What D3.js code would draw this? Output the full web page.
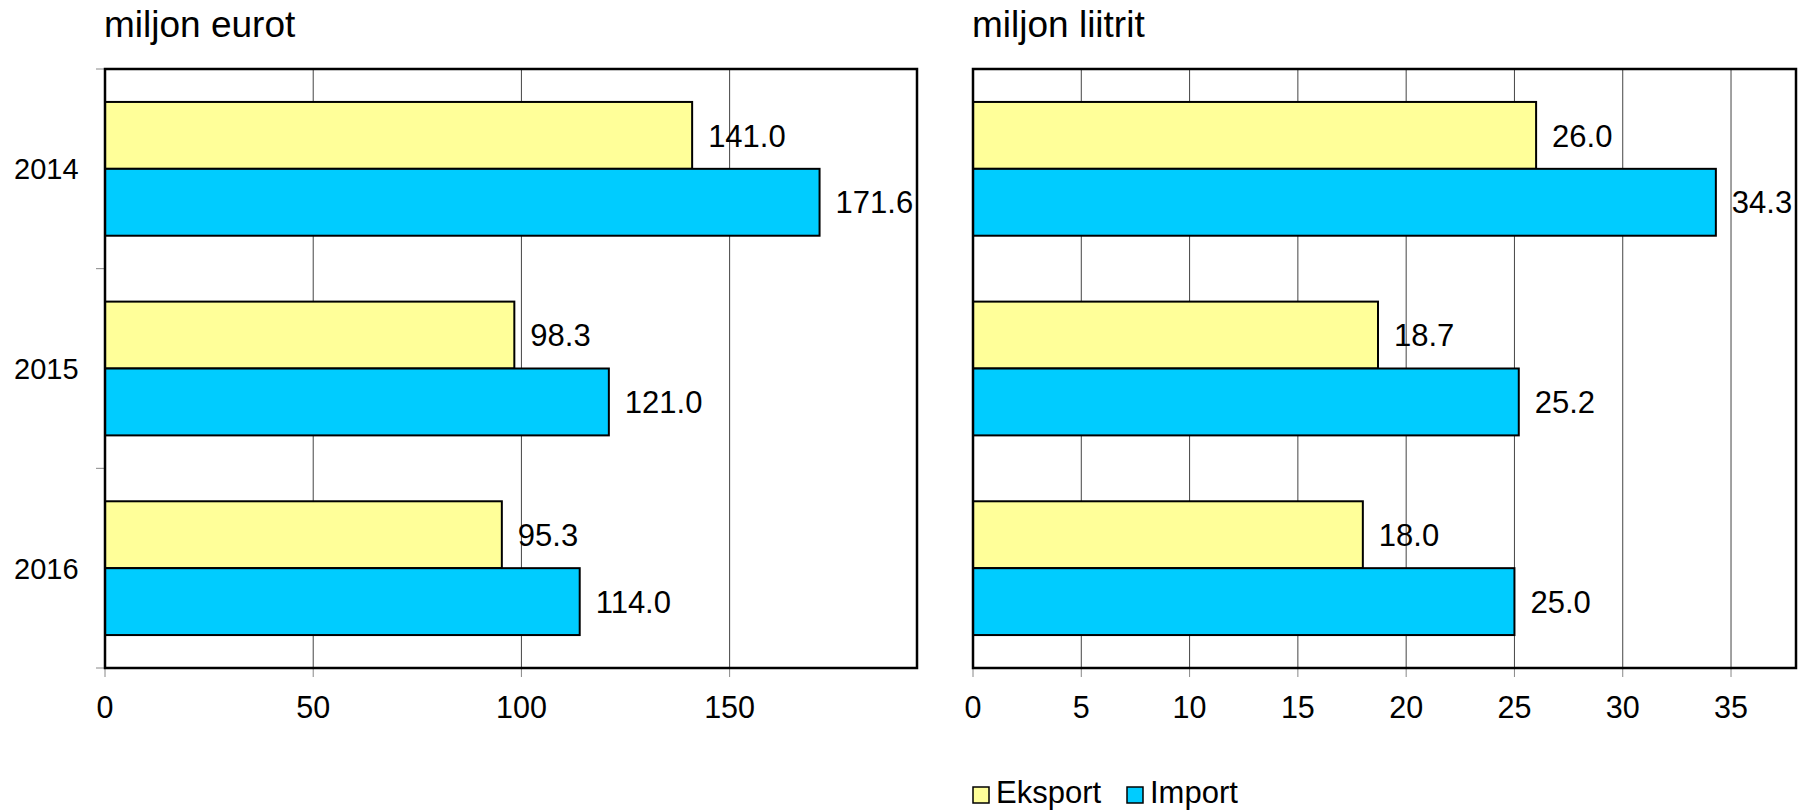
<!DOCTYPE html>
<html>
<head>
<meta charset="utf-8">
<script src="https://cdn.jsdelivr.net/npm/d3@7"></script>
<style>
  body { margin: 0; background: #fff; }
  svg text { font-family: "Liberation Sans", Arial, sans-serif; fill: #000; }
</style>
</head>
<body>
<script>
// data
var years = ['2014', '2015', '2016'];
var seriesNames = ['Eksport', 'Import'];
var seriesColors = ['#FFFF99', '#00CCFF'];

var eurExport = [141.0, 98.3, 95.3];
var eurImport = [171.6, 121.0, 114.0];
var eurTicks = [0, 50, 100, 150];

var litExport = [26.0, 18.7, 18.0];
var litImport = [34.3, 25.2, 25.0];
var litTicks = [0, 5, 10, 15, 20, 25, 30, 35];

var svgWidth = 1808, svgHeight = 810;
var plotTop = 69, plotBottom = 668;

var svg = d3.select('body').append('svg')
  .attr('width', svgWidth)
  .attr('height', svgHeight);

var y = d3.scaleBand()
  .domain(years)
  .range([plotTop, plotBottom])
  .paddingInner(0.33)
  .paddingOuter(0.165);

var ySub = d3.scaleBand()
  .domain(seriesNames)
  .range([0, y.bandwidth()]);

// one panel
function panel(opts) {
  var x = d3.scaleLinear().domain([0, opts.max]).range([opts.left, opts.right]);
  var g = svg.append('g');

  // grid lines
  g.selectAll('line.grid')
    .data(opts.ticks.slice(1))
    .enter().append('line')
    .attr('x1', function(d) { return x(d) })
    .attr('x2', function(d) { return x(d) })
    .attr('y1', plotTop)
    .attr('y2', plotBottom)
    .attr('stroke', '#444')
    .attr('stroke-width', 1);

  // x ticks below the axis
  g.selectAll('line.xtick')
    .data(opts.ticks)
    .enter().append('line')
    .attr('x1', function(d) { return x(d) })
    .attr('x2', function(d) { return x(d) })
    .attr('y1', plotBottom)
    .attr('y2', plotBottom + 9)
    .attr('stroke', '#888')
    .attr('stroke-width', 1);

  g.selectAll('text.xlab')
    .data(opts.ticks)
    .enter().append('text')
    .attr('x', function(d) { return x(d) })
    .attr('y', 718)
    .attr('text-anchor', 'middle')
    .style('font-size', '30.5px')
    .text(function(d) { return d });

  // y ticks (category boundaries), left panel only
  if (opts.yTicks) {
    var bounds = d3.range(years.length + 1).map(function(i) {
      return plotTop + i * y.step();
    });
    g.selectAll('line.ytick')
      .data(bounds)
      .enter().append('line')
      .attr('x1', opts.left - 9)
      .attr('x2', opts.left)
      .attr('y1', function(d) { return d })
      .attr('y2', function(d) { return d })
      .attr('stroke', '#888')
      .attr('stroke-width', 1);

    g.selectAll('text.ylab')
      .data(years)
      .enter().append('text')
      .attr('x', 14)
      .attr('y', function(d) { return y(d) + y.bandwidth() / 2 })
      .attr('dy', '0.36em')
      .style('font-size', '29px')
      .text(function(d) { return d });
  }

  // bars
  var rows = [];
  years.forEach(function(yr, i) {
    rows.push({ year: yr, s: 0, v: opts.exp[i] });
    rows.push({ year: yr, s: 1, v: opts.imp[i] });
  });

  g.selectAll('rect.bar')
    .data(rows)
    .enter().append('rect')
    .attr('x', x(0))
    .attr('y', function(d) { return y(d.year) + ySub(seriesNames[d.s]) })
    .attr('width', function(d) { return x(d.v) - x(0) })
    .attr('height', ySub.bandwidth())
    .attr('fill', function(d) { return seriesColors[d.s] })
    .attr('stroke', '#000')
    .attr('stroke-width', 2);

  g.selectAll('text.val')
    .data(rows)
    .enter().append('text')
    .attr('x', function(d) { return x(d.v) + 16 })
    .attr('y', function(d) { return y(d.year) + ySub(seriesNames[d.s]) + ySub.bandwidth() / 2 })
    .attr('dy', '0.36em')
    .style('font-size', '31px')
    .text(function(d) { return d.v.toFixed(1) });

  // frame
  g.append('rect')
    .attr('x', opts.left)
    .attr('y', plotTop)
    .attr('width', opts.right - opts.left)
    .attr('height', plotBottom - plotTop)
    .attr('fill', 'none')
    .attr('stroke', '#000')
    .attr('stroke-width', 2.5);

  g.append('text')
    .attr('x', opts.left - 1)
    .attr('y', 37)
    .style('font-size', '37px')
    .text(opts.title);
}

panel({ left: 105, right: 917, max: 195, ticks: eurTicks, exp: eurExport, imp: eurImport, title: 'miljon eurot', yTicks: true });
panel({ left: 973, right: 1796, max: 38, ticks: litTicks, exp: litExport, imp: litImport, title: 'miljon liitrit', yTicks: false });

// legend
var legend = svg.append('g').attr('transform', 'translate(973,787)');
var lx = [0, 154];
seriesNames.forEach(function(name, i) {
  legend.append('rect')
    .attr('x', lx[i])
    .attr('y', 0)
    .attr('width', 16)
    .attr('height', 16)
    .attr('fill', seriesColors[i])
    .attr('stroke', '#000')
    .attr('stroke-width', 1.5);
  legend.append('text')
    .attr('x', lx[i] + 23)
    .attr('y', 16)
    .style('font-size', '31px')
    .text(name);
});
</script>
</body>
</html>
